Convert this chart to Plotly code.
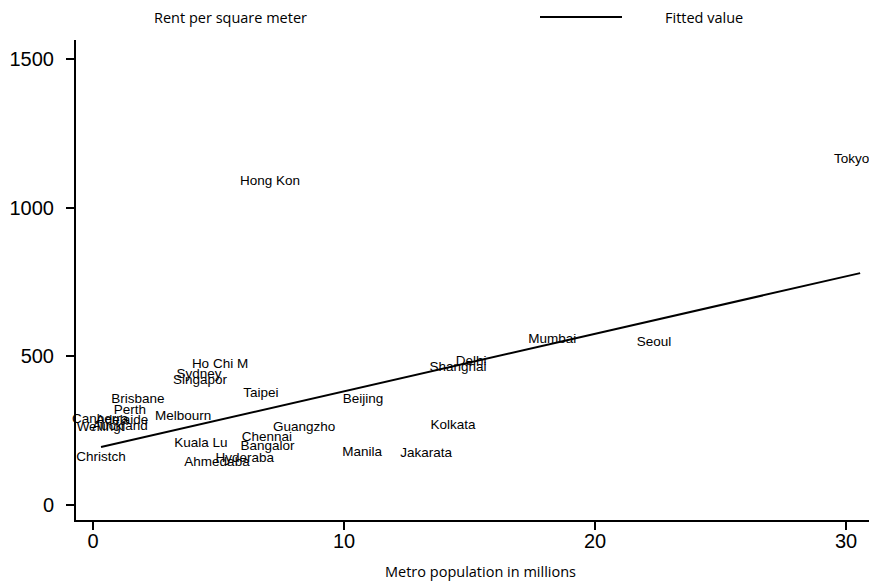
import plotly.graph_objects as go

# Data (labels are Stata str8-truncated city names)
cities = ["Tokyo (Y", "Hong Kon", "Mumbai", "Seoul", "Delhi", "Shanghai", "Beijing",
          "Kolkata", "Jakarata", "Manila", "Guangzho", "Taipei", "Ho Chi M", "Sydney",
          "Singapor", "Melbourn", "Brisbane", "Perth", "Adelaide", "Canberra", "Auckland",
          "Wellingt", "Christch", "Kuala Lu", "Chennai", "Bangalor", "Hyderaba", "Ahmedaba"]
population = [30.56, 7.05, 18.3, 22.35, 15.06, 14.54, 10.76,
              14.34, 13.27, 10.72, 8.41, 6.69, 5.06, 4.22,
              4.26, 3.59, 1.79, 1.47, 1.16, 0.28, 1.08,
              0.30, 0.32, 4.3, 6.93, 6.95, 6.05, 4.94]
rent = [1160, 1086, 555, 545, 481, 461, 353,
        266, 172, 175, 259, 373, 471, 437,
        417, 296, 356, 316, 283, 286, 262,
        259, 161, 208, 225, 195, 155, 141]

fit_x = [0.32, 30.56]
fit_y = [195, 780]

x_ticks = [0, 10, 20, 30]
y_ticks = [0, 500, 1000, 1500]

fig = go.Figure()
fig.add_trace(go.Scatter(
    x=population, y=rent, mode="markers+text", text=cities,
    textposition="middle center", name="Rent per square meter",
    marker=dict(size=1, opacity=0),
    textfont=dict(family="Liberation Sans, Arial", size=13.5, color="black"),
    cliponaxis=False, showlegend=False, hoverinfo="text"))
fig.add_trace(go.Scatter(
    x=fit_x, y=fit_y, mode="lines", name="Fitted value",
    line=dict(color="black", width=2), showlegend=False))

# the page body has an 8px margin; plot area spans page pixels 76..885 x 40..520
PW = 809  # plot width in px
legend_font = dict(family="Open Sans, Noto Sans", size=14.5, color="black")
fig.add_annotation(xref="paper", yref="paper", x=(152 - 76) / PW, y=1.0,
                   yshift=23, xanchor="left", yanchor="middle", showarrow=False,
                   text="Rent per square meter", font=legend_font)
fig.add_annotation(xref="paper", yref="paper", x=(663 - 76) / PW, y=1.0,
                   yshift=23, xanchor="left", yanchor="middle", showarrow=False,
                   text="Fitted value", font=legend_font)
fig.add_shape(type="line", xref="paper", yref="paper",
              x0=(540 - 76) / PW, x1=(622 - 76) / PW, y0=1 + 23 / 480, y1=1 + 23 / 480,
              line=dict(color="black", width=2))

tick_font = dict(family="Liberation Sans Narrow, Liberation Sans, Arial", size=20, color="black")
fig.update_layout(
    width=877, height=574,
    margin=dict(l=68, r=0, t=32, b=62),
    paper_bgcolor="white", plot_bgcolor="white",
    xaxis=dict(range=[-0.677, 31.55], tickvals=x_ticks, ticks="outside", ticklen=8,
               tickwidth=2, tickcolor="black", showgrid=False, zeroline=False,
               showline=True, linecolor="black", linewidth=2, tickfont=tick_font,
               automargin=False, ticklabelstandoff=-6,
               title=dict(text="Metro population in millions", font=legend_font, standoff=16)),
    yaxis=dict(range=[-50.4, 1564], tickvals=y_ticks, ticks="outside", ticklen=8,
               tickwidth=2, tickcolor="black", showgrid=False, zeroline=False,
               showline=True, linecolor="black", linewidth=2, tickfont=tick_font,
               automargin=False, ticklabelstandoff=8),
)

fig.write_html("out.html")
